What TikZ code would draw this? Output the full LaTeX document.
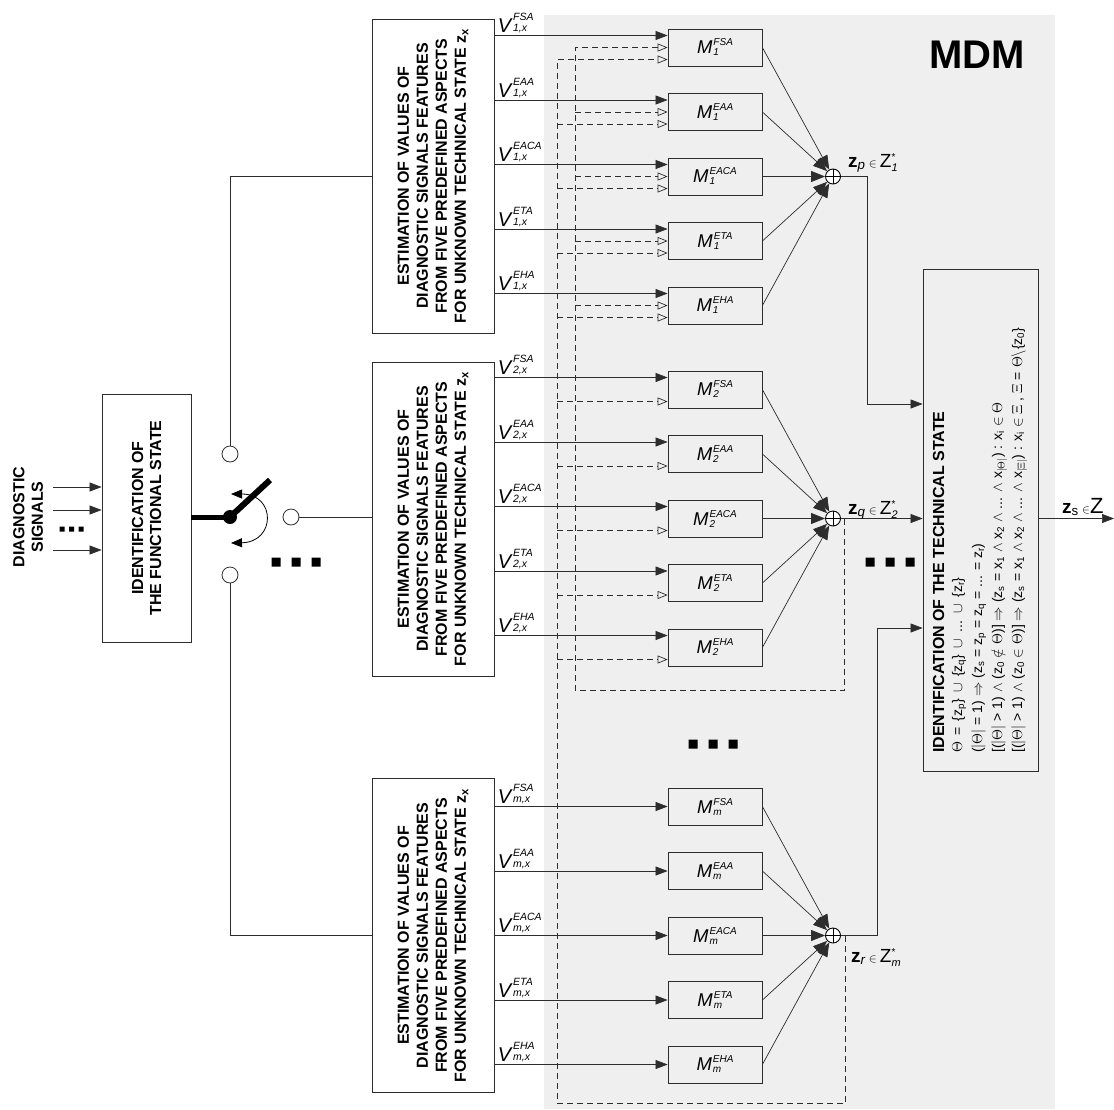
\documentclass[tikz,border=0pt]{standalone}
\usepackage{fontspec}
\setmainfont{Liberation Sans}
\usepackage{amsmath}
\usepackage{tikz}
\usetikzlibrary{arrows.meta, positioning, calc}
\definecolor{mdmgray}{RGB}{239, 239, 239}
\definecolor{linegray}{RGB}{45, 45, 45}
\newcommand{\mlab}[2]{{\itshape M\/}\kern1pt\rlap{\raisebox{-2pt}{\fontsize{10}{10}\selectfont\itshape #2}}\raisebox{8pt}{\fontsize{10}{10}\selectfont\itshape #1}}
\newcommand{\vlab}[2]{{\itshape V\/}\kern0.5pt\rlap{\raisebox{1pt}{\fontsize{10.5}{10.5}\selectfont\itshape #2,x}}\raisebox{12pt}{\fontsize{10.5}{10.5}\selectfont\itshape #1}}
\newcommand{\zlab}[2]{\textbf{z}\textsubscript{\itshape #1}\,{\fontsize{12}{12}\selectfont$\in$}\,Z$^{\text{\fontsize{10}{10}\selectfont *}}_{\text{\fontsize{11}{11}\selectfont\itshape #2}}$}

\begin{document}
\begin{tikzpicture}[x=1pt, y=-1pt,
  conn/.style={draw=linegray, line width=0.7pt},
  sarrow/.style={conn, -{Triangle[length=12pt, width=9pt]}},
  darrow/.style={conn, dash pattern=on 6pt off 4pt, -{Triangle[open, length=10pt, width=8pt]}},
  sumarrow/.style={conn, -{Triangle[length=14pt, width=11pt]}},
  estbox/.style={draw=linegray, line width=0.8pt, fill=white, minimum width=122pt, minimum height=314pt},
  bigtext/.style={font=\bfseries\fontsize{16}{19}\selectfont, align=center, rotate=90, inner sep=0pt},
  mbox/.style={draw=linegray, line width=0.8pt, minimum width=94pt, minimum height=37pt, inner sep=0pt, font=\fontsize{18.5}{18.5}\selectfont},
  vlabel/.style={anchor=base west, inner sep=0pt, xshift=3pt, yshift=3pt, font=\fontsize{20}{20}\selectfont},
  sumnode/.style={circle, draw=black, line width=0.9pt, fill=white, minimum size=15pt, inner sep=0pt,
    path picture={\draw[line width=0.9pt] (path picture bounding box.north) -- (path picture bounding box.south)
      (path picture bounding box.west) -- (path picture bounding box.east);}},
  contact/.style={circle, draw=linegray, line width=0.8pt, fill=white, minimum size=16pt, inner sep=0pt},
  zlabel/.style={anchor=base west, inner sep=0pt, font=\fontsize{19}{19}\selectfont},
  formula/.style={anchor=base west, rotate=90, inner sep=0pt, font=\fontsize{14}{14}\selectfont}]
  \useasboundingbox (0,0) rectangle (1114,1109);

  % MDM area
  \fill[mdmgray] (544,15) rectangle (1055,1109);
  \node[font=\bfseries\fontsize{40}{40}\selectfont] (mdm) at (977,55) {MDM};

  % Diagnostic signals and functional state
  \node[bigtext, font=\bfseries\fontsize{16}{18.5}\selectfont] (sig) at (28,517) {DIAGNOSTIC\\SIGNALS};
  \node[draw=linegray, line width=0.8pt, fill=white, minimum width=89pt, minimum height=248pt] (fid) at (146.5,518) {};
  \node[bigtext, font=\bfseries\fontsize{16}{18}\selectfont] at (fid) {IDENTIFICATION OF\\THE FUNCTIONAL STATE};
  \coordinate (in1) at (53,487);
  \coordinate (in2) at (53,510);
  \coordinate (in3) at (53,550);
  \draw[sarrow] (in1) -- (in1 -| fid.west);
  \draw[sarrow] (in2) -- (in2 -| fid.west);
  \draw[sarrow] (in3) -- (in3 -| fid.west);
  \fill (59.5,526.5) rectangle +(5,5) (69,526.5) rectangle +(5,5) (78.5,526.5) rectangle +(5,5);

  % Switch
  \node[circle, fill=black, minimum size=14pt, inner sep=0pt] (pivot) at (230,517) {};
  \node[contact] (c1) at (230,454) {};
  \node[contact] (c2) at (291,517) {};
  \node[contact] (c3) at (230,575) {};
  \coordinate (lever) at (270,480);
  \draw[line width=5pt] (fid.east |- pivot) -- (pivot.center);
  \draw[line width=6pt] (pivot.center) -- (lever);
  \draw[line width=0.8pt, {Triangle[length=11pt, width=9pt]}-{Triangle[length=11pt, width=9pt]}]
    (231,494) .. controls (276,494) and (276,542) .. (231,543);
  \fill (271.5,557.5) rectangle +(9,9) (291.5,557.5) rectangle +(9,9) (311.5,557.5) rectangle +(9,9);

  % Estimation blocks
  \node[estbox] (est1) at (433,176) {};
  \node[estbox] (est2) at (433,519) {};
  \node[estbox] (estm) at (433,935.5) {};
  \node[bigtext] at (est1) {ESTIMATION OF VALUES OF\\DIAGNOSTIC SIGNALS FEATURES\\FROM FIVE PREDEFINED ASPECTS\\FOR UNKNOWN TECHNICAL STATE z\textsubscript{x}};
  \node[bigtext] at (est2) {ESTIMATION OF VALUES OF\\DIAGNOSTIC SIGNALS FEATURES\\FROM FIVE PREDEFINED ASPECTS\\FOR UNKNOWN TECHNICAL STATE z\textsubscript{x}};
  \node[bigtext] at (estm) {ESTIMATION OF VALUES OF\\DIAGNOSTIC SIGNALS FEATURES\\FROM FIVE PREDEFINED ASPECTS\\FOR UNKNOWN TECHNICAL STATE z\textsubscript{x}};
  \draw[conn] (c1) |- (est1.west);
  \draw[conn] (c2) -- (c2 -| est2.west);
  \draw[conn] (c3) |- (estm.west);

  % Models, group 1
  \node[mbox] (m1fsa) at (715,47.5) {\mlab{FSA}{1}};
  \node[mbox] (m1eaa) at (715,112) {\mlab{EAA}{1}};
  \node[mbox] (m1eaca) at (715,176.5) {\mlab{EACA}{1}};
  \node[mbox] (m1eta) at (715,241) {\mlab{ETA}{1}};
  \node[mbox] (m1eha) at (715,305.5) {\mlab{EHA}{1}};
  \node[sumnode] (s1) at (833,176.5) {};
  \draw[sarrow] ($(m1fsa.west -| est1.east)+(0,-12)$) node[vlabel] {\vlab{FSA}{1}} -- ($(m1fsa.west)+(0,-12)$);
  \draw[sarrow] ($(m1eaa.west -| est1.east)+(0,-12)$) node[vlabel] {\vlab{EAA}{1}} -- ($(m1eaa.west)+(0,-12)$);
  \draw[sarrow] ($(m1eaca.west -| est1.east)+(0,-12)$) node[vlabel] {\vlab{EACA}{1}} -- ($(m1eaca.west)+(0,-12)$);
  \draw[sarrow] ($(m1eta.west -| est1.east)+(0,-12)$) node[vlabel] {\vlab{ETA}{1}} -- ($(m1eta.west)+(0,-12)$);
  \draw[sarrow] ($(m1eha.west -| est1.east)+(0,-12)$) node[vlabel] {\vlab{EHA}{1}} -- ($(m1eha.west)+(0,-12)$);
  \draw[sumarrow] (m1fsa.east) -- (s1);
  \draw[sumarrow] (m1eaa.east) -- (s1);
  \draw[sumarrow] (m1eaca.east) -- (s1);
  \draw[sumarrow] (m1eta.east) -- (s1);
  \draw[sumarrow] (m1eha.east) -- (s1);

  % Models, group 2
  \node[mbox] (m2fsa) at (715,389.5) {\mlab{FSA}{2}};
  \node[mbox] (m2eaa) at (715,454) {\mlab{EAA}{2}};
  \node[mbox] (m2eaca) at (715,518.5) {\mlab{EACA}{2}};
  \node[mbox] (m2eta) at (715,583) {\mlab{ETA}{2}};
  \node[mbox] (m2eha) at (715,647.5) {\mlab{EHA}{2}};
  \node[sumnode] (s2) at (833,518.5) {};
  \draw[sarrow] ($(m2fsa.west -| est2.east)+(0,-12)$) node[vlabel] {\vlab{FSA}{2}} -- ($(m2fsa.west)+(0,-12)$);
  \draw[sarrow] ($(m2eaa.west -| est2.east)+(0,-12)$) node[vlabel] {\vlab{EAA}{2}} -- ($(m2eaa.west)+(0,-12)$);
  \draw[sarrow] ($(m2eaca.west -| est2.east)+(0,-12)$) node[vlabel] {\vlab{EACA}{2}} -- ($(m2eaca.west)+(0,-12)$);
  \draw[sarrow] ($(m2eta.west -| est2.east)+(0,-12)$) node[vlabel] {\vlab{ETA}{2}} -- ($(m2eta.west)+(0,-12)$);
  \draw[sarrow] ($(m2eha.west -| est2.east)+(0,-12)$) node[vlabel] {\vlab{EHA}{2}} -- ($(m2eha.west)+(0,-12)$);
  \draw[sumarrow] (m2fsa.east) -- (s2);
  \draw[sumarrow] (m2eaa.east) -- (s2);
  \draw[sumarrow] (m2eaca.east) -- (s2);
  \draw[sumarrow] (m2eta.east) -- (s2);
  \draw[sumarrow] (m2eha.east) -- (s2);

  % Models, group m
  \node[mbox] (mmfsa) at (715,806.5) {\mlab{FSA}{m}};
  \node[mbox] (mmeaa) at (715,871) {\mlab{EAA}{m}};
  \node[mbox] (mmeaca) at (715,935.5) {\mlab{EACA}{m}};
  \node[mbox] (mmeta) at (715,1000) {\mlab{ETA}{m}};
  \node[mbox] (mmeha) at (715,1064.5) {\mlab{EHA}{m}};
  \node[sumnode] (sm) at (833,935.5) {};
  \draw[sarrow] (mmfsa.west -| estm.east) node[vlabel] {\vlab{FSA}{m}} -- (mmfsa.west);
  \draw[sarrow] (mmeaa.west -| estm.east) node[vlabel] {\vlab{EAA}{m}} -- (mmeaa.west);
  \draw[sarrow] (mmeaca.west -| estm.east) node[vlabel] {\vlab{EACA}{m}} -- (mmeaca.west);
  \draw[sarrow] (mmeta.west -| estm.east) node[vlabel] {\vlab{ETA}{m}} -- (mmeta.west);
  \draw[sarrow] (mmeha.west -| estm.east) node[vlabel] {\vlab{EHA}{m}} -- (mmeha.west);
  \draw[sumarrow] (mmfsa.east) -- (sm);
  \draw[sumarrow] (mmeaa.east) -- (sm);
  \draw[sumarrow] (mmeaca.east) -- (sm);
  \draw[sumarrow] (mmeta.east) -- (sm);
  \draw[sumarrow] (mmeha.east) -- (sm);

  % Identification of the technical state
  \node[draw=linegray, line width=0.8pt, minimum width=115pt, minimum height=502pt] (tid) at (980.5,520) {};
  \node[formula, font=\bfseries\fontsize{16}{16}\selectfont] at (944,753) {IDENTIFICATION OF THE TECHNICAL STATE};
  \node[formula] at (962,753) {$\Theta$ \,=\, \{z\textsubscript{p}\} \,$\cup$\, \{z\textsubscript{q}\} \,$\cup$\, ... \,$\cup$\, \{z\textsubscript{r}\}};
  \node[formula] at (982,753) {($|\Theta|$ = 1) $\Rightarrow$ (z\textsubscript{s} = z\textsubscript{p} = z\textsubscript{q} = ... = z\textsubscript{r})};
  \node[formula] at (1002,753) {[($|\Theta|$ > 1) $\wedge$ (z\textsubscript{0} $\notin$ $\Theta$)] $\Rightarrow$ (z\textsubscript{s} = x\textsubscript{1} $\wedge$ x\textsubscript{2} $\wedge$ ... $\wedge$ x\textsubscript{$|\Theta|$}) : x\textsubscript{i} $\in$ $\Theta$};
  \node[formula] at (1022,753) {[($|\Theta|$ > 1) $\wedge$ (z\textsubscript{0} $\in$ $\Theta$)] $\Rightarrow$ (z\textsubscript{s} = x\textsubscript{1} $\wedge$ x\textsubscript{2} $\wedge$ ... $\wedge$ x\textsubscript{$|\Xi|$}) : x\textsubscript{i} $\in$ $\Xi$ , $\Xi$ = $\Theta\backslash$\{z\textsubscript{0}\}};

  % Outputs of the groups
  \coordinate (pbend) at (867,404);
  \coordinate (rbend) at (877,628);
  \coordinate (zsend) at (1114,518.5);
  \draw[sarrow] (s1) -| (pbend) -- (pbend -| tid.west);
  \draw[sarrow] (s2) -- (s2 -| tid.west);
  \draw[sarrow] (sm) -| (rbend) -- (rbend -| tid.west);
  \draw[sarrow] (tid.east |- s2) -- (zsend);
  \node[zlabel] at (848,167) {\zlab{p}{1}};
  \node[zlabel] at (848,514) {\zlab{q}{2}};
  \node[zlabel] at (851,962) {\zlab{r}{m}};
  \node[zlabel] at (1062,513) {\textbf{z}\textsubscript{s}\,{\fontsize{12}{12}\selectfont$\in$}{\fontsize{22}{22}\selectfont Z}};

  % Feedback of z_q and z_r
  \coordinate (qtap) at (844,518.5);
  \coordinate (qx) at (575,690);
  \coordinate (rtap) at (845,935.5);
  \coordinate (rx) at (557,1103);
  \draw[darrow] (qtap) |- (qx) |- (m1fsa.west);
  \draw[darrow] (m1eaa.west -| qx) -- (m1eaa.west);
  \draw[darrow] (m1eaca.west -| qx) -- (m1eaca.west);
  \draw[darrow] (m1eta.west -| qx) -- (m1eta.west);
  \draw[darrow] (m1eha.west -| qx) -- (m1eha.west);
  \draw[darrow] (rtap) |- (rx) |- ($(m1fsa.west)+(0,12)$);
  \draw[darrow] ($(m1eaa.west -| rx)+(0,12)$) -- ($(m1eaa.west)+(0,12)$);
  \draw[darrow] ($(m1eaca.west -| rx)+(0,12)$) -- ($(m1eaca.west)+(0,12)$);
  \draw[darrow] ($(m1eta.west -| rx)+(0,12)$) -- ($(m1eta.west)+(0,12)$);
  \draw[darrow] ($(m1eha.west -| rx)+(0,12)$) -- ($(m1eha.west)+(0,12)$);
  \draw[darrow] ($(m2fsa.west -| rx)+(0,12)$) -- ($(m2fsa.west)+(0,12)$);
  \draw[darrow] ($(m2eaa.west -| rx)+(0,12)$) -- ($(m2eaa.west)+(0,12)$);
  \draw[darrow] ($(m2eaca.west -| rx)+(0,12)$) -- ($(m2eaca.west)+(0,12)$);
  \draw[darrow] ($(m2eta.west -| rx)+(0,12)$) -- ($(m2eta.west)+(0,12)$);
  \draw[darrow] ($(m2eha.west -| rx)+(0,12)$) -- ($(m2eha.west)+(0,12)$);

  % Further groups
  \fill (688.5,739.5) rectangle +(9,9) (708.5,739.5) rectangle +(9,9) (728.5,739.5) rectangle +(9,9);
  \fill (865.5,557.5) rectangle +(9,9) (885.5,557.5) rectangle +(9,9) (905.5,557.5) rectangle +(9,9);
\end{tikzpicture}
\end{document}
